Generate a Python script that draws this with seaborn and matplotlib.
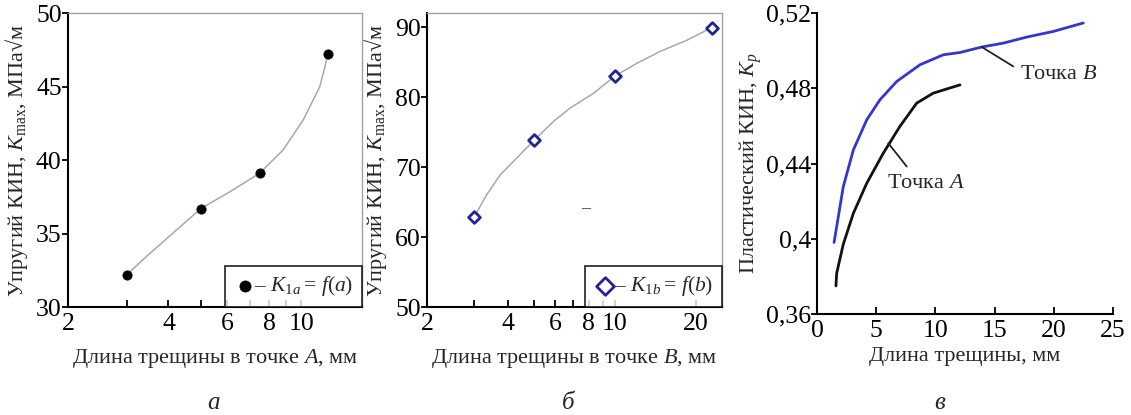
import matplotlib
matplotlib.use("Agg")
import matplotlib.pyplot as plt
import seaborn as sns
import pandas as pd
from matplotlib.ticker import FixedLocator, FixedFormatter, NullLocator

# ---------------- data ----------------
# panel a: crack length at point A (mm) vs elastic SIF
a_len = [3.0, 5.0, 7.5, 12.0]
a_k = [32.2, 36.7, 39.1, 47.2]
a_curve_len = [3.0, 3.52, 4.23, 5.0, 6.11, 7.5, 8.82, 10.13, 10.85, 11.36, 11.77, 12.0]
a_curve_k = [32.2, 33.65, 35.24, 36.7, 37.84, 39.1, 40.68, 42.72, 44.08, 44.99, 46.35, 47.2]

# panel b: crack length at point B (mm) vs elastic SIF
b_len = [3.0, 5.0, 10.0, 22.9]
b_k = [62.9, 73.8, 83.0, 89.9]
b_curve_len = [3.0, 3.33, 3.74, 5.0, 5.9, 6.8, 8.3, 10.0, 12.04, 14.7, 18.47, 22.9]
b_curve_k = [62.9, 66.0, 68.86, 73.8, 76.5, 78.4, 80.5, 83.0, 84.8, 86.5, 88.1, 89.9]

# panel c: plastic SIF vs crack length
cB_len = [1.44, 2.22, 3.07, 4.2, 5.32, 6.73, 8.7, 10.67, 12.08, 13.9, 15.74, 17.71, 19.96, 22.49]
cB_kp = [0.398, 0.4277, 0.4472, 0.4632, 0.4739, 0.4836, 0.4925, 0.4978, 0.4990, 0.5019, 0.504, 0.5072, 0.5102, 0.5147]
cA_len = [1.6, 1.66, 2.22, 3.07, 4.2, 5.6, 7.0, 8.42, 9.82, 12.08]
cA_kp = [0.3749, 0.3816, 0.3971, 0.4135, 0.4295, 0.4455, 0.4597, 0.4721, 0.4774, 0.4818]

a_xticks = [2, 3, 4, 5, 6, 7, 8, 9, 10]
a_xlabels = ["2", "", "4", "", "6", "", "8", "", "10"]
b_xticks = [2, 3, 4, 5, 6, 7, 8, 9, 10, 20]
b_xlabels = ["2", "", "4", "", "6", "", "8", "", "10", "20"]
a_yticks = [30, 35, 40, 45, 50]
b_yticks = [50, 60, 70, 80, 90]
c_xticks = [0, 5, 10, 15, 20, 25]
c_yticks = [0.36, 0.40, 0.44, 0.48, 0.52]
c_ylabels = ["0,36", "0,4", "0,44", "0,48", "0,52"]

# ---------------- style ----------------
sns.set_theme(style="white")
plt.rcParams["font.family"] = ["Liberation Serif", "DejaVu Serif"]
plt.rcParams["mathtext.fontset"] = "custom"
plt.rcParams["mathtext.rm"] = "Liberation Serif"
plt.rcParams["mathtext.it"] = "Liberation Serif:italic"
plt.rcParams["mathtext.bf"] = "Liberation Serif:bold"

TICK_FS = 18.5
LAB_FS = 16
GRAY = "#a8a8a8"
NAVY = "#22229a"
BLUE = "#3535d0"

fig = plt.figure(figsize=(11.31, 4.15), dpi=100)
W, H = 1131, 415


def add_ax(l, r, t, b):
    return fig.add_axes([l / W, (H - b) / H, (r - l) / W, (b - t) / H])


ax_a = add_ax(68, 362, 13, 307)
ax_b = add_ax(427, 722, 13, 307)
ax_c = add_ax(817, 1113, 13, 314)


def style_axes(ax, box=True):
    for s in ["left", "bottom"]:
        ax.spines[s].set_color("black")
        ax.spines[s].set_linewidth(1.5)
    for s in ["top", "right"]:
        if box:
            ax.spines[s].set_color("#a0a0a0")
            ax.spines[s].set_linewidth(1.0)
        else:
            ax.spines[s].set_visible(False)
    ax.tick_params(axis="x", direction="in", length=5, width=1.3, pad=4,
                   labelsize=TICK_FS, colors="black", bottom=True)
    ax.tick_params(axis="y", direction="out", length=4, width=1.3, pad=0.5,
                   labelsize=TICK_FS, colors="black", left=True)
    ax.set_facecolor("white")


# ---------------- panel a ----------------
sns.lineplot(x=a_curve_len, y=a_curve_k, ax=ax_a, color=GRAY, lw=1.1,
             sort=False, estimator=None)
sns.scatterplot(x=a_len, y=a_k, ax=ax_a, color="black", s=45, edgecolor="black",
                linewidth=0.5, zorder=3, label=r"– $K_{1a}{=}\,f(a)$")
ax_a.set_xscale("log")
ax_a.set_xlim(2, 15.2)
ax_a.set_ylim(30, 50)
ax_a.xaxis.set_major_locator(FixedLocator(a_xticks))
ax_a.xaxis.set_major_formatter(FixedFormatter(a_xlabels))
ax_a.xaxis.set_minor_locator(NullLocator())
ax_a.set_yticks(a_yticks)
style_axes(ax_a)
ax_a.set_xlabel(r"Длина трещины в точке $A$, мм", fontsize=LAB_FS, labelpad=9)
ax_a.set_ylabel(r"Упругий КИН, $K_{\mathrm{max}}$, МПа√м", fontsize=LAB_FS, labelpad=4)

# ---------------- panel b ----------------
sns.lineplot(x=b_curve_len, y=b_curve_k, ax=ax_b, color=GRAY, lw=1.1,
             sort=False, estimator=None)
sns.scatterplot(x=b_len, y=b_k, ax=ax_b, marker="D", s=36, facecolor="white",
                edgecolor=NAVY, linewidth=2.0, zorder=3,
                label=r"– $K_{1b}{=}\,f(b)$")
ax_b.set_xscale("log")
ax_b.set_xlim(2, 25)
ax_b.set_ylim(50, 92)
ax_b.xaxis.set_major_locator(FixedLocator(b_xticks))
ax_b.xaxis.set_major_formatter(FixedFormatter(b_xlabels))
ax_b.xaxis.set_minor_locator(NullLocator())
ax_b.set_yticks(b_yticks)
style_axes(ax_b)
ax_b.set_xlabel(r"Длина трещины в точке $B$, мм", fontsize=LAB_FS, labelpad=9)
ax_b.set_ylabel(r"Упругий КИН, $K_{\mathrm{max}}$, МПа√м", fontsize=LAB_FS, labelpad=4)
ax_b.text(7.8, 64.0, "–", fontsize=13, ha="center", va="center", color="#333333")

for ax, ms in [(ax_a, 1.2), (ax_b, 1.5)]:
    leg = ax.legend(loc="lower right", borderaxespad=0, frameon=True,
                    fancybox=False, fontsize=15.5, handletextpad=-0.05,
                    handlelength=1.0, borderpad=0.4, markerscale=ms)
    leg.get_frame().set_edgecolor("black")
    leg.get_frame().set_linewidth(1.3)

# ---------------- panel c ----------------
sns.lineplot(x=cB_len, y=cB_kp, ax=ax_c, color=BLUE, lw=2.0, sort=False, estimator=None)
sns.lineplot(x=cA_len, y=cA_kp, ax=ax_c, color="#111111", lw=2.0, sort=False, estimator=None)
ax_c.set_xlim(0, 25)
ax_c.set_ylim(0.36, 0.52)
ax_c.set_xticks(c_xticks)
ax_c.set_yticks(c_yticks)
ax_c.set_yticklabels(c_ylabels)
style_axes(ax_c, box=False)
ax_c.set_xlabel("Длина трещины, мм", fontsize=LAB_FS, labelpad=4)
ax_c.set_ylabel(r"Пластический КИН, $K_p$", fontsize=LAB_FS, labelpad=1)

ax_c.plot([13.9, 16.58], [0.502, 0.4916], color="#222222", lw=1.3)
ax_c.text(17.15, 0.4872, r"Точка $B$", fontsize=LAB_FS, ha="left", va="center")
ax_c.plot([6.02, 7.58], [0.4508, 0.4384], color="#222222", lw=1.3)
ax_c.text(5.89, 0.4295, r"Точка $A$", fontsize=LAB_FS, ha="left", va="center")

# ---------------- panel letters ----------------
for xpix, letter in [(213, "а"), (568, "б"), (940, "в")]:
    fig.text(xpix / W, (H - 403) / H, letter, fontsize=18, style="italic",
             ha="center", va="center")

fig.savefig("out.png", dpi=100, facecolor="white")
